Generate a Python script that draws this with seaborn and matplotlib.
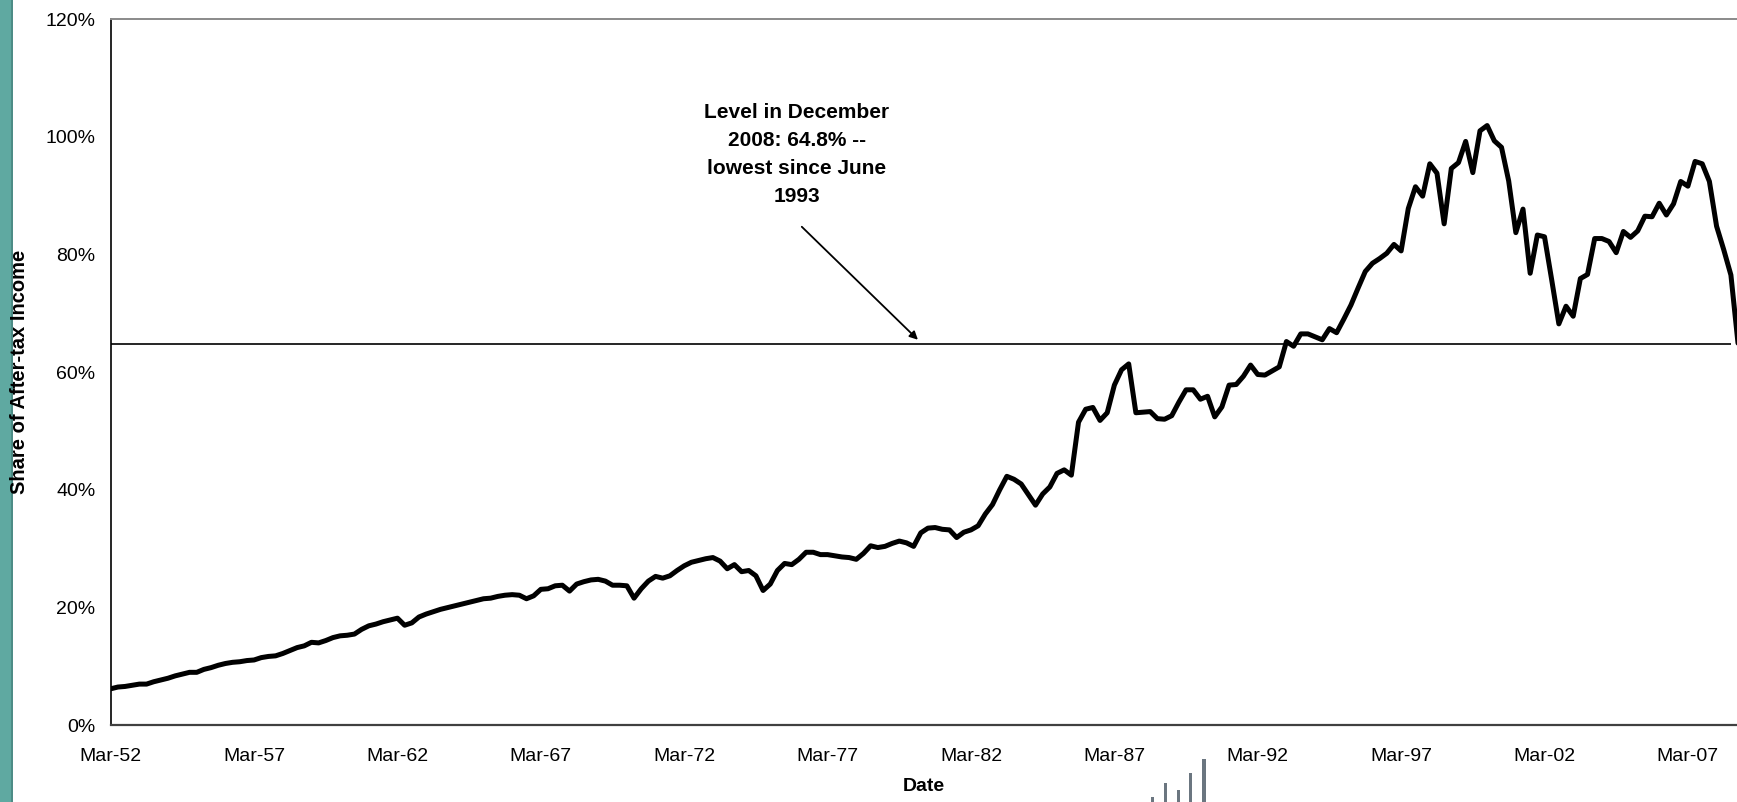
import numpy as np
import pandas as pd
import matplotlib
matplotlib.use("Agg")
import matplotlib.pyplot as plt
from matplotlib.patches import Rectangle
import seaborn as sns

# Household equity holdings as a share of after-tax income, quarterly from Q1 1952 to Q4 2008 (%)
share_pct = [
    6.2, 6.5, 6.6, 6.8, 7.0, 7.0, 7.4, 7.7, 8.0, 8.4,
    8.7, 9.0, 9.0, 9.5, 9.8, 10.2, 10.5, 10.7, 10.8, 11.0,
    11.1, 11.5, 11.7, 11.8, 12.2, 12.7, 13.2, 13.5, 14.1, 14.0,
    14.4, 14.9, 15.2, 15.3, 15.5, 16.3, 16.9, 17.2, 17.6, 17.9,
    18.2, 17.0, 17.4, 18.4, 18.9, 19.3, 19.7, 20.0, 20.3, 20.6,
    20.9, 21.2, 21.5, 21.6, 21.9, 22.1, 22.2, 22.1, 21.5, 22.0,
    23.1, 23.2, 23.7, 23.8, 22.8, 24.0, 24.4, 24.7, 24.8, 24.5,
    23.8, 23.8, 23.7, 21.6, 23.2, 24.5, 25.3, 25.0, 25.4, 26.3,
    27.1, 27.7, 28.0, 28.3, 28.5, 27.9, 26.6, 27.3, 26.1, 26.3,
    25.4, 22.9, 24.0, 26.3, 27.5, 27.3, 28.2, 29.4, 29.4, 29.0,
    29.0, 28.8, 28.6, 28.5, 28.2, 29.2, 30.5, 30.2, 30.4, 30.9,
    31.3, 31.0, 30.4, 32.7, 33.5, 33.6, 33.3, 33.2, 31.9, 32.8,
    33.2, 33.9, 35.9, 37.5, 40.0, 42.3, 41.8, 41.0, 39.2, 37.4,
    39.3, 40.5, 42.8, 43.4, 42.5, 51.5, 53.7, 54.0, 51.8, 53.1,
    57.8, 60.4, 61.4, 53.1, 53.2, 53.3, 52.1, 52.0, 52.6, 54.9,
    57.0, 57.0, 55.4, 55.9, 52.4, 54.1, 57.8, 57.9, 59.3, 61.2,
    59.6, 59.5, 60.2, 60.9, 65.2, 64.4, 66.5, 66.5, 66.0, 65.5,
    67.4, 66.7, 69.0, 71.4, 74.3, 77.1, 78.5, 79.3, 80.2, 81.7,
    80.6, 87.8, 91.5, 89.9, 95.4, 93.8, 85.2, 94.6, 95.6, 99.2,
    93.9, 101.0, 101.9, 99.3, 98.2, 92.5, 83.7, 87.7, 76.8, 83.3,
    83.0, 75.7, 68.2, 71.2, 69.5, 75.9, 76.6, 82.7, 82.7, 82.2,
    80.3, 83.9, 82.9, 84.0, 86.5, 86.4, 88.7, 86.7, 88.6, 92.4,
    91.6, 95.8, 95.4, 92.4, 84.8, 80.8, 76.5, 64.8,
]
start_year = 1952
tick_years = [1952, 1957, 1962, 1967, 1972, 1977, 1982, 1987, 1992, 1997, 2002, 2007]
tick_labels = ["Mar-52", "Mar-57", "Mar-62", "Mar-67", "Mar-72", "Mar-77",
               "Mar-82", "Mar-87", "Mar-92", "Mar-97", "Mar-02", "Mar-07"]
y_ticks = [0, 20, 40, 60, 80, 100, 120]
dec_2008_level = 64.8
note_text = "Level in December\n2008: 64.8% --\nlowest since June\n1993"

quarter = np.arange(len(share_pct))
df = pd.DataFrame({"quarter": quarter, "share": share_pct})

sns.set_theme(style="white")
plt.rcParams["font.family"] = ["Liberation Sans", "DejaVu Sans"]
plt.rcParams["text.color"] = "black"
plt.rcParams["axes.labelcolor"] = "black"

W, H = 1737, 802
fig = plt.figure(figsize=(W / 100, H / 100), dpi=100)
ax = fig.add_axes([110.7 / W, 1 - 725.3 / H, 1 - 110.7 / W, (725.3 - 19) / H])

sns.lineplot(data=df, x="quarter", y="share", ax=ax, color="black",
             linewidth=3.6, legend=False)

# reference level of the latest reading
ax.hlines(dec_2008_level, quarter[0], quarter[-2], color="black", linewidth=1.2)

ax.set_xlim(0, 226.85)
ax.set_ylim(0, 120)

ax.set_xticks([(y - start_year) * 4 for y in tick_years])
ax.set_xticklabels(tick_labels)
ax.set_yticks(y_ticks)
ax.set_yticklabels([f"{v}%" for v in y_ticks])
ax.tick_params(axis="both", which="major", labelsize=14, labelcolor="black",
               direction="out", length=5, width=1.1)
ax.tick_params(axis="y", colors="black", pad=6)
ax.tick_params(axis="x", colors="#404040", labelcolor="black", pad=11)

for side in ("left", "bottom", "top"):
    ax.spines[side].set_visible(True)
ax.spines["right"].set_visible(False)
ax.spines["left"].set_color("black")
ax.spines["left"].set_linewidth(1.2)
ax.spines["bottom"].set_color("#404040")
ax.spines["bottom"].set_linewidth(1.6)
ax.spines["top"].set_color("#8a8a8a")
ax.spines["top"].set_linewidth(1.4)

ax.set_xlabel("Date", fontsize=14, fontweight="bold", labelpad=10)
ax.set_ylabel("")
fig.text(20 / W, 1 - 372 / H, "Share of After-tax Income", rotation=90,
         ha="center", va="center", fontsize=14.5, fontweight="bold",
         family=["Liberation Sans Narrow", "Liberation Sans", "DejaVu Sans"])

# callout with arrow pointing at the level line
ax.text(95.7, 96.9, note_text, ha="center", va="center", fontsize=15,
        fontweight="bold", linespacing=1.6)
ax.annotate("", xy=(112.6, dec_2008_level + 0.7), xytext=(96.4, 84.7),
            arrowprops=dict(arrowstyle="-|>", color="black", lw=1.3,
                            mutation_scale=12, shrinkA=0, shrinkB=0))

# slide frame: teal strip along the left edge
fig.patches.append(Rectangle((0, 0), 11 / W, 1, transform=fig.transFigure,
                             facecolor="#5fa9a1", edgecolor="none", zorder=-1))
fig.patches.append(Rectangle((11 / W, 0), 1.5 / W, 1, transform=fig.transFigure,
                             facecolor="#4d8c86", edgecolor="none", zorder=-1))

# fragment of a small logo peeking in at the bottom
for bx, btop, bw in [(1151, 797, 2.5), (1164, 783, 2.5), (1177, 790, 2.5),
                     (1189, 773, 3), (1202, 759, 3.5)]:
    fig.patches.append(Rectangle((bx / W, 0), bw / W, (H - btop) / H,
                                 transform=fig.transFigure, facecolor="#6b7680",
                                 edgecolor="none", zorder=-1))

fig.savefig("out.png", dpi=100)
